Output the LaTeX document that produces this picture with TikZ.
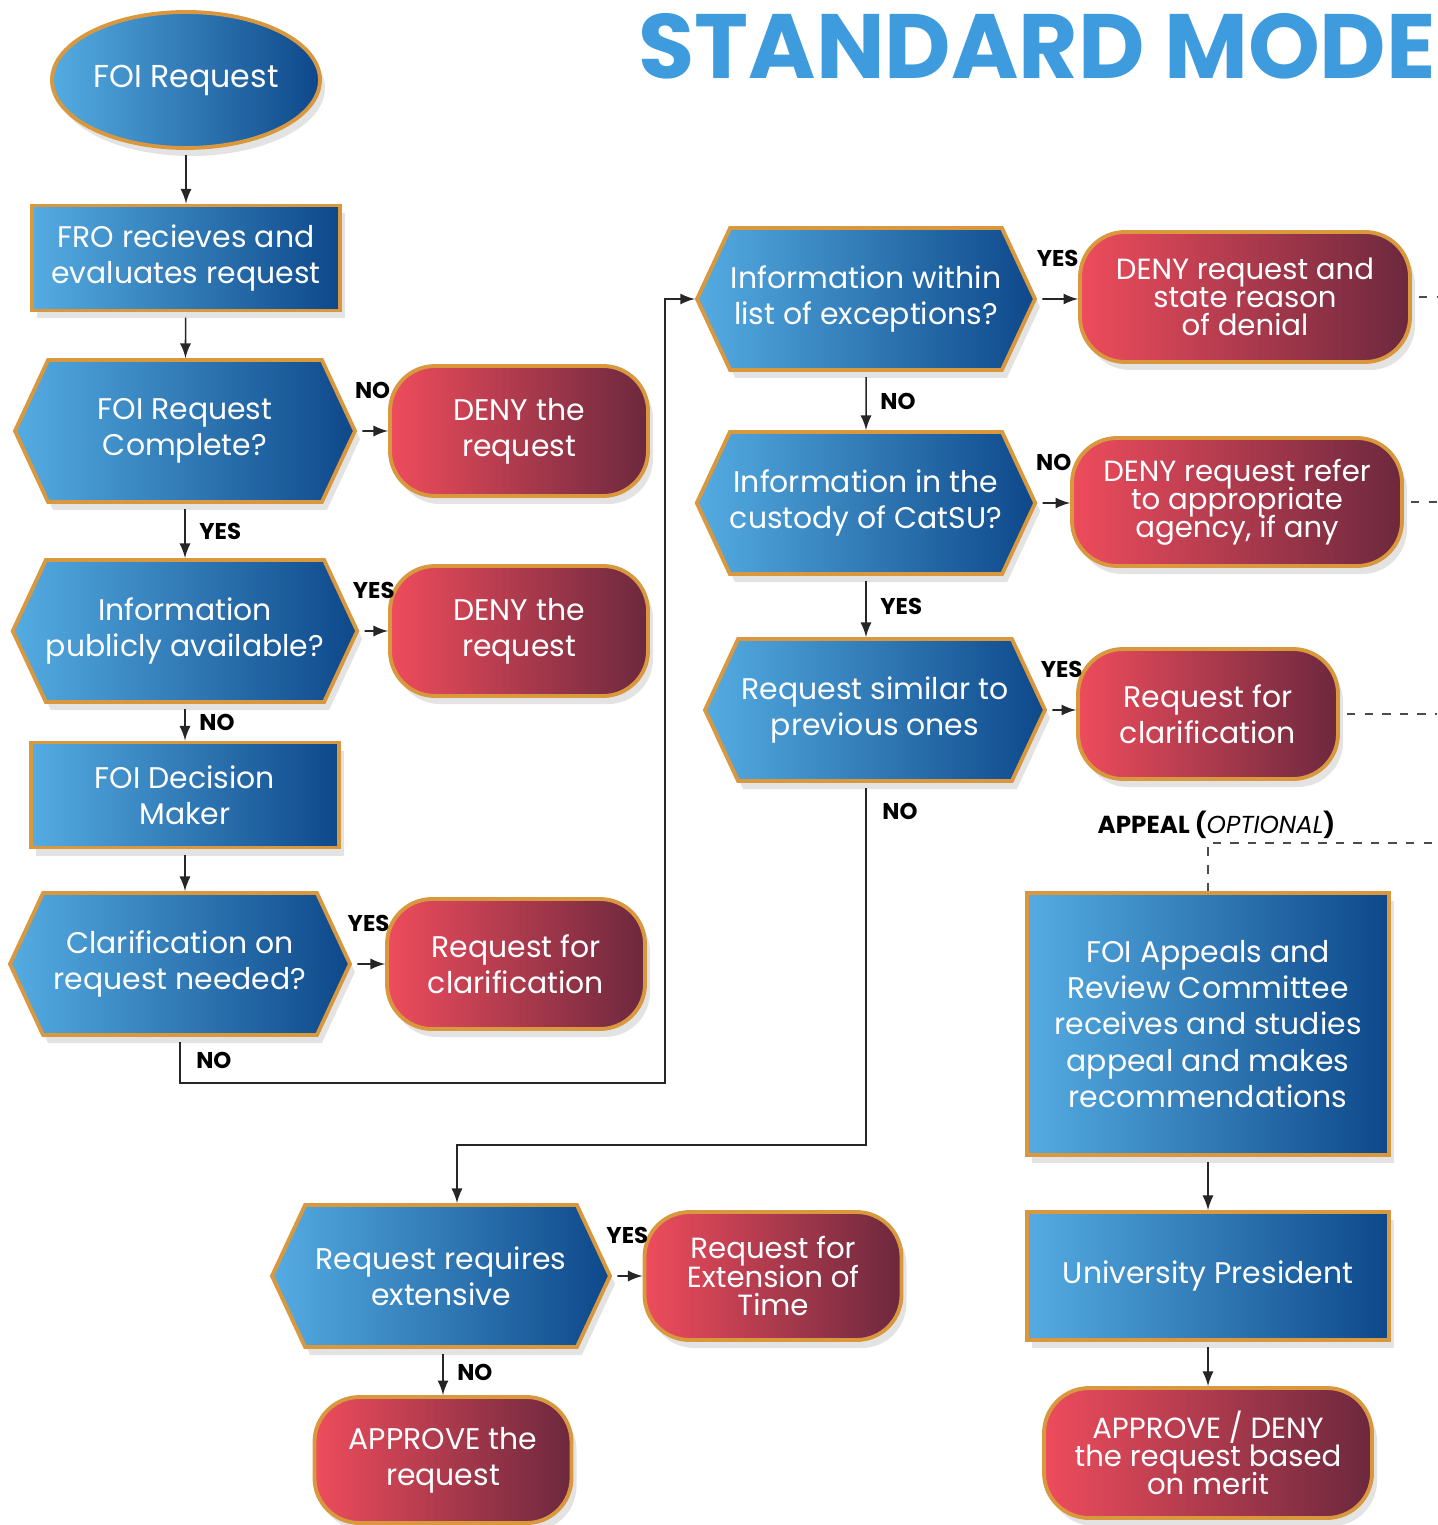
\documentclass[tikz,border=0pt]{standalone}
\usepackage{fontspec}
\setmainfont{Poppins}
\usepackage{tikz}
\usetikzlibrary{shapes.geometric}
\usetikzlibrary{shapes.symbols}
\usetikzlibrary{shadows}
\usetikzlibrary{positioning}

\definecolor{bluel}{RGB}{84,172,226}
\definecolor{blued}{RGB}{14,72,138}
\definecolor{redl}{RGB}{238,76,92}
\definecolor{redd}{RGB}{108,40,62}
\definecolor{gold}{RGB}{218,152,62}
\definecolor{titleblue}{RGB}{62,155,222}
\newcommand{\tightlines}{\fontsize{8.3}{8}\selectfont\lineskiplimit-20pt\relax\lineskip0pt\relax}

\begin{document}
\begin{tikzpicture}[font=\fontsize{8.5}{10.3}\selectfont]
  \tikzstyle{fancy}=[draw=gold,line width=1.1pt,text=white,align=center,inner sep=0pt,
    drop shadow={opacity=0.22,shadow xshift=0.05cm,shadow yshift=-0.08cm}]
  \tikzstyle{process}=[fancy,rectangle,left color=bluel,right color=blued,minimum width=3.08cm,minimum height=1.05cm]
  \tikzstyle{decision}=[fancy,signal,signal to=west and east,signal pointer angle=130,
    left color=bluel,right color=blued,minimum width=3.4cm,minimum height=1.42cm]
  \tikzstyle{outcome}=[fancy,rectangle,rounded corners=0.45cm,left color=redl,right color=redd,
    minimum width=2.58cm,minimum height=1.30cm]
  \tikzstyle{tight}=[font=\tightlines]
  \tikzstyle{answer}=[font=\bfseries\fontsize{6.5}{7}\selectfont,text=black,inner sep=1pt]
  \tikzstyle{link}=[-latex,black!85,line width=0.45pt,shorten <=1.5pt]
  \tikzstyle{dashlink}=[black!70,line width=0.45pt,dash pattern=on 2.4pt off 2.6pt]

  \useasboundingbox (0,0) rectangle (14.37,-15.25);
  \node[anchor=west,inner sep=0pt,text=titleblue,font=\bfseries\fontsize{26}{26}\selectfont] (title) at (6.38,-0.46) {STANDARD MODE};

  % left column
  \node[fancy,ellipse,left color=bluel,right color=blued,minimum width=2.68cm,minimum height=1.36cm,font=\fontsize{9}{10.3}\selectfont] (request) at (1.86,-0.80) {FOI Request};
  \node[process] (receive) at (1.86,-2.58) {FRO recieves and\\evaluates request};
  \draw[link] (request) -- (receive);

  \node[decision] (complete) at (1.85,-4.31) {FOI Request\\Complete?};
  \draw[link] (receive) -- (complete);
  \node[outcome] (deny1) at (5.19,-4.31) {DENY the\\request};
  \draw[link] (complete) -- (deny1) node[answer,midway,above=0.28cm] {NO};

  \node[decision] (public) at (1.85,-6.31) {Information\\publicly available?};
  \draw[link] (complete) -- (public) node[answer,midway,right=0.1cm] {YES};
  \node[outcome] (deny2) at (5.19,-6.31) {DENY the\\request};
  \draw[link] (public) -- (deny2) node[answer,midway,above=0.28cm] {YES};

  \node[process] (maker) at (1.85,-7.95) {FOI Decision\\Maker};
  \draw[link] (public) -- (maker) node[answer,midway,right=0.1cm] {NO};

  \node[decision] (clarify) at (1.80,-9.64) {Clarification on\\request needed?};
  \draw[link] (maker) -- (maker |- clarify.north);
  \node[outcome] (clarreq1) at (5.16,-9.64) {Request for\\clarification};
  \draw[link] (clarify) -- (clarreq1) node[answer,midway,above=0.28cm] {YES};

  % middle column
  \node[decision,minimum width=3.38cm] (except) at (8.66,-2.99) {Information within\\list of exceptions?};
  \coordinate (loopa) at (6.65,-10.83);
  \draw[link] (clarify.south) |- (loopa) node[answer,pos=0.25,right=0.12cm] {NO} |- (except.west);
  \node[outcome,tight,minimum width=3.30cm] (deny3) at (12.45,-2.97) {DENY request and\\state reason\\of denial};
  \draw[link] (except) -- (except -| deny3.west) node[answer,midway,above=0.28cm] {YES};

  \node[decision,minimum width=3.38cm] (custody) at (8.66,-5.03) {Information in the\\custody of CatSU?};
  \draw[link] (except) -- (custody) node[answer,midway,right=0.1cm] {NO};
  \node[outcome,tight,minimum width=3.30cm,minimum height=1.28cm] (deny4) at (12.37,-5.02) {DENY request refer\\to appropriate\\agency, if any};
  \draw[link] (custody) -- (custody -| deny4.west) node[answer,midway,above=0.28cm] {NO};

  \node[decision] (similar) at (8.75,-7.10) {Request similar to\\previous ones};
  \draw[link] (custody) -- (custody |- similar.north) node[answer,midway,right=0.1cm] {YES};
  \node[outcome,minimum width=2.60cm] (clarreq2) at (12.08,-7.14) {Request for\\clarification};
  \draw[link] (similar) -- (similar -| clarreq2.west) node[answer,midway,above=0.28cm] {YES};

  \coordinate (loopb) at (8.66,-11.45);
  \coordinate (loopc) at (4.57,-11.45);
  \node[decision,minimum width=3.38cm] (extensive) at (4.41,-12.76) {Request requires\\extensive};
  \draw[link] (similar.south -| loopb) -- (loopb) node[answer,pos=0.08,right=0.12cm] {NO} -- (loopc) -- (loopc |- extensive.north);
  \node[outcome,tight,minimum width=2.57cm,minimum height=1.28cm] (extension) at (7.73,-12.76) {Request for\\Extension of\\Time};
  \draw[link] (extensive) -- (extension) node[answer,midway,above=0.28cm] {YES};
  \node[outcome,minimum width=2.57cm,minimum height=1.26cm] (approve) at (4.43,-14.60) {APPROVE the\\request};
  \draw[link] (approve.north |- extensive.south) -- (approve) node[answer,midway,right=0.1cm] {NO};

  % right column
  \coordinate (edge) at (14.37,0);
  \draw[dashlink] ([xshift=2pt]deny3.east) -- (deny3.east -| edge);
  \draw[dashlink] ([xshift=2pt]deny4.east) -- (deny4.east -| edge);
  \draw[dashlink] ([xshift=2pt]clarreq2.east) -- (clarreq2.east -| edge);

  \node[anchor=west,inner sep=0pt,font=\fontsize{7}{8}\selectfont] (appeal) at (10.97,-8.25) {\textbf{APPEAL (}\textit{OPTIONAL}\textbf{)}};
  \node[process,minimum width=3.62cm,minimum height=2.62cm] (appeals) at (12.08,-10.24) {FOI Appeals and\\Review Committee\\receives and studies\\appeal and makes\\recommendations};
  \coordinate (appealturn) at (12.08,-8.43);
  \draw[dashlink] (appeals.north) -- (appealturn) -- (appealturn -| edge);

  \node[process,minimum width=3.62cm,minimum height=1.28cm] (president) at (12.08,-12.76) {University President};
  \draw[link] (appeals) -- (president);
  \node[outcome,tight,minimum width=3.28cm] (final) at (12.08,-14.53) {APPROVE / DENY\\the request based\\on merit};
  \draw[link] (president) -- (final);
\end{tikzpicture}
\end{document}
